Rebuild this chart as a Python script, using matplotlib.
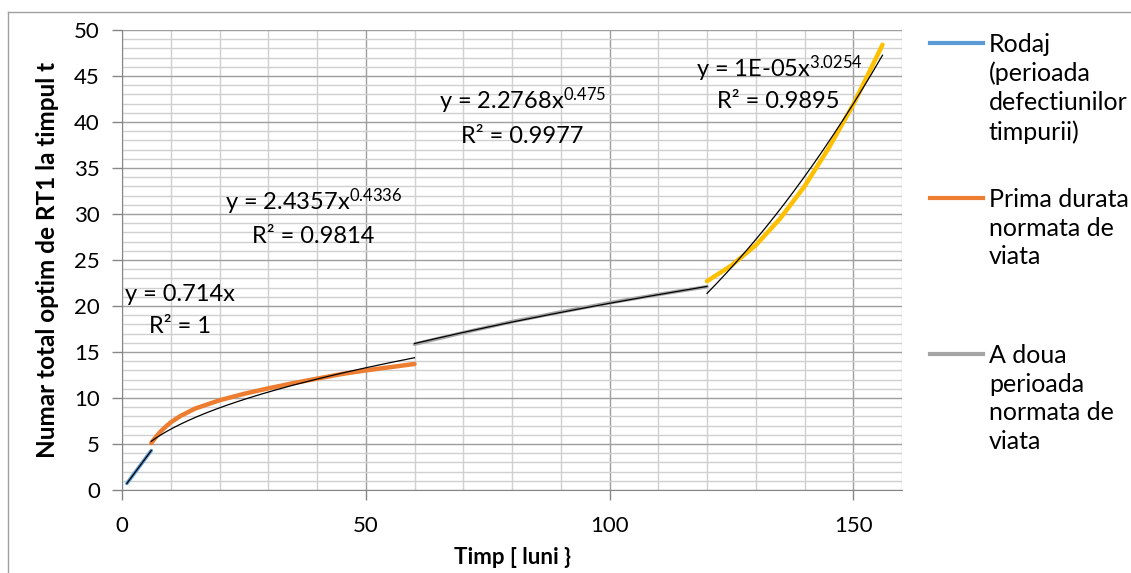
import numpy as np
import matplotlib
matplotlib.use("Agg")
import matplotlib.pyplot as plt
from matplotlib.lines import Line2D

plt.rcParams['font.family'] = ['Lato', 'DejaVu Sans']
plt.rcParams['mathtext.fontset'] = 'custom'
plt.rcParams['mathtext.rm'] = 'Lato'
plt.rcParams['mathtext.it'] = 'Lato:italic'
plt.rcParams['mathtext.bf'] = 'Lato:bold'

# ---- data ----
rodaj_x = [1, 2, 3, 4, 5, 6]
rodaj_y = [0.714, 1.428, 2.142, 2.856, 3.570, 4.284]

prima_x = [6, 7, 8, 9, 10, 12, 15, 20, 25, 30, 35, 40, 45, 50, 55, 60]
prima_y = [5.1, 5.8, 6.4, 6.9, 7.35, 8.05, 8.85, 9.75, 10.45, 11.05, 11.6, 12.1, 12.6, 13.0, 13.35, 13.7]

doua_x = [60, 70, 80, 90, 100, 110, 120]
doua_y = [15.85, 17.1, 18.3, 19.35, 20.35, 21.25, 22.1]

a4_x = [120, 125, 130, 135, 140, 145, 150, 155, 156]
a4_y = [22.7, 24.4, 26.6, 29.5, 33.0, 37.2, 41.9, 47.3, 48.4]

# trendline coefficients y = a * x^b and ranges
trend_a = [0.714, 2.4357, 2.2768, 1.095e-05]
trend_b = [1.0, 0.4336, 0.475, 3.0254]
trend_lo = [1, 6, 60, 120]
trend_hi = [6, 60, 120, 156]

eq_labels = ['y = 0.714x',
             r'y = 2.4357x$^{\mathregular{0.4336}}$',
             r'y = 2.2768x$^{\mathregular{0.475}}$',
             r'y = 1E-05x$^{\mathregular{3.0254}}$']
r2_labels = ['R² = 1', 'R² = 0.9814', 'R² = 0.9977', 'R² = 0.9895']
eq_pos = [(11.9, 20.58), (39.4, 30.43), (82.2, 41.38), (134.8, 44.92)]
r2_pos = [(11.9, 17.07), (39.3, 26.88), (82.1, 37.68), (134.6, 41.55)]

series_labels = ['Rodaj\n(perioada\ndefectiunilor\ntimpurii)',
                 'Prima durata\nnormata de\nviata',
                 'A doua\nperioada\nnormata de\nviata']
colors = ['#5B9BD5', '#ED7D31', '#A5A5A5', '#FFC000']

xticks = [0, 50, 100, 150]
yticks = list(range(0, 51, 5))

# ---- figure ----
W, H = 1131, 573
fig = plt.figure(figsize=(W / 100, H / 100), dpi=100)
ax = fig.add_axes([122 / W, 1 - 490 / H, (902 - 122) / W, (490 - 30) / H])

ax.set_xlim(0, 160)
ax.set_ylim(0, 50)

# grid
ax.set_xticks(np.arange(0, 161, 10), minor=True)
ax.set_yticks(np.arange(0, 51, 1), minor=True)
ax.set_xticks(xticks)
ax.set_yticks(yticks)
ax.grid(which='minor', color='#D0D0D0', linewidth=1.0)
ax.grid(which='major', color='#9E9E9E', linewidth=1.0)
ax.set_axisbelow(True)
ax.tick_params(which='minor', length=0)
ax.tick_params(which='major', length=7, width=1, color='#868686', direction='out',
               labelsize=16, pad=9)
ax.tick_params(axis='x', pad=12)
for s in ['top', 'right']:
    ax.spines[s].set_visible(False)
for s in ['left', 'bottom']:
    ax.spines[s].set_color('#868686')

xs = [rodaj_x, prima_x, doua_x, a4_x]
ys = [rodaj_y, prima_y, doua_y, a4_y]
for i in range(4):
    ax.plot(xs[i], ys[i], color=colors[i], linewidth=3.2 if i in (1, 3) else 2.6,
            solid_capstyle='round', solid_joinstyle='round', zorder=3)
for i in range(4):
    tx = np.linspace(trend_lo[i], trend_hi[i], 200)
    ax.plot(tx, trend_a[i] * tx ** trend_b[i], color='black', linewidth=0.9, zorder=4)

for i in range(4):
    ax.text(eq_pos[i][0], eq_pos[i][1], eq_labels[i], ha='center', va='baseline',
            fontsize=17, zorder=5)
    ax.text(r2_pos[i][0], r2_pos[i][1], r2_labels[i], ha='center', va='baseline',
            fontsize=17, zorder=5)

ax.set_xlabel('Timp [ luni }', fontsize=16, fontweight='bold', labelpad=8)
ax.set_ylabel('Numar total optim de RT1 la timpul t', fontsize=17.5, fontweight='bold',
              labelpad=11)

# legend (manual, Excel style: handle aligned with first text line)
leg_y = [43, 198, 354]
for i in range(3):
    yy = 1 - leg_y[i] / H
    fig.add_artist(Line2D([930 / W, 983 / W], [yy, yy], transform=fig.transFigure,
                          color=colors[i], linewidth=3))
    fig.text(989 / W, yy + 10 / H, series_labels[i], ha='left', va='top', fontsize=18,
             linespacing=1.3, transform=fig.transFigure)

# chart area border (partially visible)
fig.add_artist(Line2D([8 / W, 8 / W], [0, 1 - 12 / H], transform=fig.transFigure,
                      color='#A0A0A0', linewidth=1))
fig.add_artist(Line2D([8 / W, 1], [1 - 12 / H, 1 - 12 / H], transform=fig.transFigure,
                      color='#A0A0A0', linewidth=1))

fig.savefig('out.png', dpi=100)
